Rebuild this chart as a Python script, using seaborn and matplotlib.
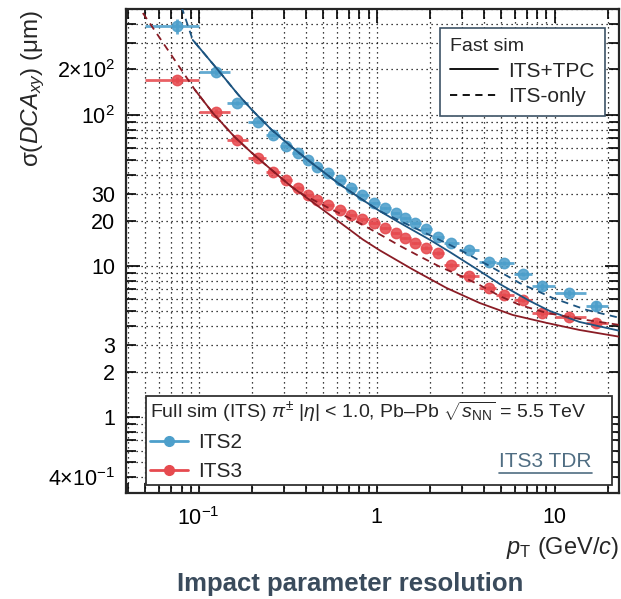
import numpy as np
import pandas as pd
import matplotlib
matplotlib.use("Agg")
import matplotlib.pyplot as plt
import seaborn as sns
from matplotlib.lines import Line2D
from matplotlib.ticker import FixedLocator, FuncFormatter, NullFormatter

# ==============================
# Full sim points (pT bins in GeV/c, sigma in um)
# ==============================
pt = [0.075, 0.125, 0.165, 0.215, 0.26, 0.31, 0.36, 0.41, 0.46, 0.53, 0.62, 0.72,
      0.83, 0.97, 1.12, 1.28, 1.45, 1.65, 1.9, 2.2, 2.6, 3.3, 4.25, 5.2, 6.6, 8.5, 12, 17]
pt_lo = [0.05, 0.10, 0.145, 0.19, 0.24, 0.285, 0.335, 0.385, 0.435, 0.495, 0.575, 0.67,
         0.775, 0.9, 1.05, 1.2, 1.36, 1.55, 1.77, 2.05, 2.4, 2.9, 3.75, 4.7, 5.9, 7.5, 10, 15]
pt_hi = [0.10, 0.15, 0.19, 0.24, 0.285, 0.335, 0.385, 0.435, 0.495, 0.575, 0.67, 0.775,
         0.9, 1.05, 1.2, 1.36, 1.55, 1.77, 2.05, 2.4, 2.9, 3.75, 4.7, 5.9, 7.5, 10, 15, 20]

its2_sigma = [390, 193, 120, 89.9, 73.8, 62.4, 56.0, 50.3, 45.3, 41.3, 37.1, 32.9,
              29.5, 26.1, 24.2, 22.4, 20.8, 19.3, 17.6, 15.6, 14.2, 12.8, 10.6, 10.5,
              8.85, 7.38, 6.63, 5.43]
its2_err = [45, 8, 4, 2, 1.5, 1, 1, 0.8, 0.7, 0.6, 0.5, 0.5, 0.4, 0.4, 0.4, 0.3,
            0.3, 0.3, 0.3, 0.3, 0.3, 0.3, 0.3, 0.3, 0.3, 0.3, 0.3, 0.4]
its3_sigma = [171, 105, 68.2, 51.9, 42.0, 37.1, 32.9, 29.5, 27.4, 25.3, 23.5, 21.8,
              20.5, 19.3, 17.9, 16.6, 15.3, 14.2, 13.2, 12.2, 10.2, 8.6, 7.15, 6.43,
              5.96, 4.89, 4.60, 4.20]
its3_err = [8, 4, 2, 1.5, 1, 0.8, 0.7, 0.6, 0.5, 0.5, 0.4, 0.4, 0.4, 0.3, 0.3, 0.3,
            0.3, 0.3, 0.3, 0.3, 0.3, 0.2, 0.2, 0.2, 0.2, 0.2, 0.2, 0.2]

# ==============================
# Fast sim curves
# ==============================
its2_tpc_pt = [0.0925, 0.128, 0.166, 0.199, 0.257, 0.333, 0.431, 0.604, 0.803, 1.04,
               1.35, 1.99, 2.57, 3.79, 4.91, 7.24, 9.37, 13.8, 23.5]
its2_tpc_sigma = [314, 199, 137, 108, 79.6, 61.4, 48.1, 35.5, 28.2, 23.1,
                  19.3, 14.9, 12.4, 9.27, 7.60, 5.87, 5.04, 4.26, 3.71]
its2_only_pt = [0.08, 0.0925, 0.128, 0.166, 0.199, 0.257, 0.333, 0.431, 0.604, 0.803,
                1.04, 1.35, 1.99, 2.93, 4.31, 6.36, 9.75, 15.1, 23.5]
its2_only_sigma = [520, 314, 199, 137, 108, 79.6, 61.4, 48.1, 35.5, 28.2,
                   23.1, 19.9, 16.0, 12.8, 10.0, 7.71, 6.14, 5.12, 4.52]
its3_tpc_pt = [0.095, 0.120, 0.159, 0.199, 0.257, 0.333, 0.384, 0.545, 0.834, 1.04,
               1.59, 2.47, 3.79, 5.81, 9.02, 13.8, 23.5]
its3_tpc_sigma = [147, 103, 71.5, 56.0, 43.2, 33.4, 29.6, 21.8, 15.0, 12.7,
                  9.5, 7.15, 5.69, 4.74, 4.20, 3.77, 3.39]
its3_only_pt = [0.0485, 0.095, 0.120, 0.159, 0.199, 0.257, 0.333, 0.384, 0.545, 0.803,
                1.04, 1.35, 1.74, 2.26, 2.93, 3.79, 4.91, 6.36, 9.02, 13.8, 23.5]
its3_only_sigma = [473, 147, 103, 71.5, 56.0, 43.2, 33.4, 29.8, 24.0, 19.2,
                   16.2, 13.6, 11.6, 9.9, 8.65, 7.48, 6.33, 5.52, 4.89, 4.46, 4.06]

c_its2 = "#4d9fcb"
c_its3 = "#e64a4f"
c_its2_line = "#1c5480"
c_its3_line = "#8a1c25"

# ==============================
# Style
# ==============================
sns.set_theme(style="ticks")
plt.rcParams["font.family"] = ["Liberation Sans", "DejaVu Sans"]
plt.rcParams["mathtext.fontset"] = "custom"
plt.rcParams["mathtext.rm"] = "Liberation Sans"
plt.rcParams["mathtext.it"] = "Liberation Sans:italic"
plt.rcParams["mathtext.bf"] = "Liberation Sans:bold"
plt.rcParams["axes.linewidth"] = 1.6

fig = plt.figure(figsize=(6.21, 5.99), dpi=100)
ax = fig.add_axes([126 / 621, 1 - 493 / 599, 493 / 621, 484 / 599])
ax.set_xscale("log")
ax.set_yscale("log")

# curves
rows = []
for det, mode, xs, ys in [("ITS2", "ITS+TPC", its2_tpc_pt, its2_tpc_sigma),
                          ("ITS2", "ITS-only", its2_only_pt, its2_only_sigma),
                          ("ITS3", "ITS+TPC", its3_tpc_pt, its3_tpc_sigma),
                          ("ITS3", "ITS-only", its3_only_pt, its3_only_sigma)]:
    for x, y in zip(xs, ys):
        rows.append({"pt": x, "sigma": y, "det": det, "mode": mode})
curves = pd.DataFrame(rows)
sns.lineplot(data=curves, x="pt", y="sigma", hue="det", style="mode",
             palette={"ITS2": c_its2_line, "ITS3": c_its3_line},
             dashes={"ITS+TPC": "", "ITS-only": (4, 3)},
             sort=False, estimator=None, legend=False, lw=1.3, ax=ax, zorder=4)

# points
for sig, err, col in [(its2_sigma, its2_err, c_its2), (its3_sigma, its3_err, c_its3)]:
    xerr = [np.array(pt) - np.array(pt_lo), np.array(pt_hi) - np.array(pt)]
    ax.errorbar(pt, sig, xerr=xerr, yerr=err, fmt="o", color=col, ms=7.5,
                elinewidth=2, capsize=0, alpha=0.88, mec=col, zorder=3)

ax.set_xlim(0.039, 23)
ax.set_ylim(0.314, 503)

# ticks
minor_decades = [0.01, 0.1, 1, 10, 100]
minor_vals = [d * k for d in minor_decades for k in range(2, 10)]
ax.xaxis.set_major_locator(FixedLocator([0.1, 1, 10]))
ax.xaxis.set_minor_locator(FixedLocator(minor_vals))
ax.xaxis.set_major_formatter(FuncFormatter(
    lambda v, p: {0.1: "10$^{-1}$", 1: "1", 10: "10"}.get(round(v, 3), "")))
ax.xaxis.set_minor_formatter(NullFormatter())

ylab = {0.4: "4×10$^{-1}$", 1: "1", 2: "2", 3: "3", 10: "10", 20: "20", 30: "30",
        100: "10$^{2}$", 200: "2×10$^{2}$"}
ax.yaxis.set_major_locator(FixedLocator([1, 10, 100]))
ax.yaxis.set_minor_locator(FixedLocator(minor_vals))
ax.yaxis.set_major_formatter(FuncFormatter(lambda v, p: ylab.get(round(v, 3), "")))
ax.yaxis.set_minor_formatter(FuncFormatter(lambda v, p: ylab.get(round(v, 3), "")))

ax.tick_params(which="both", direction="in", top=True, right=True,
               labelsize=15.5, colors="black", width=1.2)
ax.tick_params(which="major", length=10, pad=8)
ax.tick_params(which="minor", length=7, pad=8)
ax.tick_params(axis="x", which="both", pad=10)
ax.grid(True, which="both", color="black", linestyle=(0, (1, 3)), linewidth=0.9)
ax.set_xlabel("")
ax.set_ylabel("")

# legends
fast_h = [Line2D([], [], color="black", lw=1.3),
          Line2D([], [], color="black", lw=1.3, ls=(0, (4, 3)))]
leg1 = ax.legend(fast_h, ["ITS+TPC", "ITS-only"], title="Fast sim",
                 loc="upper right", bbox_to_anchor=(0.972, 0.961),
                 fontsize=15, title_fontsize=14, alignment="left",
                 frameon=True, fancybox=False, edgecolor="#3d5366", framealpha=1,
                 handlelength=2.3, borderpad=0.5, labelspacing=0.3,
                 handletextpad=0.5, borderaxespad=0)
leg1.get_frame().set_linewidth(1.2)
ax.add_artist(leg1)

full_h = [Line2D([], [], color=c_its2, marker="o", ms=7, lw=2),
          Line2D([], [], color=c_its3, marker="o", ms=7, lw=2)]
leg2 = ax.legend(full_h, ["ITS2", "ITS3"],
                 title=r"Full sim (ITS) $\pi^{\pm}$ |$\eta$| < 1.0, Pb–Pb $\sqrt{s_{\mathrm{NN}}}$ = 5.5 TeV",
                 loc="lower left", bbox_to_anchor=(0.0406, 0.0165, 0.945, 0.197),
                 mode="expand", fontsize=15, title_fontsize=14, alignment="left",
                 frameon=True, fancybox=False, edgecolor="#333333", framealpha=1,
                 handlelength=1.8, borderpad=0.2, labelspacing=0.45,
                 handletextpad=0.5, borderaxespad=0)
leg2.get_frame().set_linewidth(1.3)

tdr = ax.text(0.945, 0.045, "ITS3 TDR", transform=ax.transAxes, ha="right",
              va="bottom", fontsize=15, color="#4f6d82", zorder=10)

# text labels
fig.text(619 / 621, 1 - 548 / 599, r"$p_{\mathrm{T}}$ (GeV/$c$)", ha="right",
         va="center", fontsize=17)
fig.text(33 / 621, 1 - 88 / 599, r"σ($DCA_{xy}$) (μm)", ha="center", va="center",
         rotation=90, fontsize=17.5)
fig.text(350 / 621, 1 - 584 / 599, "Impact parameter resolution", ha="center",
         va="center", fontsize=18.5, fontweight="bold", color="#3a4b5c")

# underline for the TDR tag
fig.canvas.draw()
bb = tdr.get_window_extent().transformed(ax.transAxes.inverted())
ax.plot([bb.x0, bb.x1], [bb.y0 - 0.004, bb.y0 - 0.004], transform=ax.transAxes,
        color="#4f6d82", lw=1.2, zorder=10, clip_on=False)

fig.savefig("out.png", dpi=100)
